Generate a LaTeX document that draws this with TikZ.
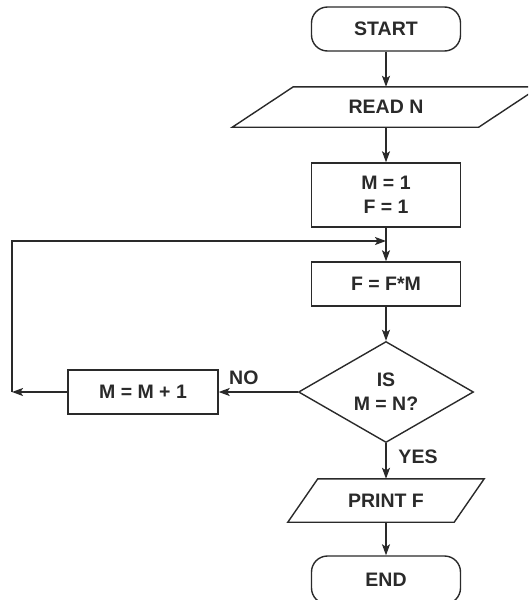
\documentclass[tikz,border=0pt]{standalone}
\usepackage{fontspec}
\setmainfont{Liberation Sans}
\usetikzlibrary{shapes.geometric,arrows.meta}
\definecolor{ink}{HTML}{2A2A2A}
\begin{document}
\begin{tikzpicture}[x=1pt,y=-1pt,
  every node/.style={font=\fontsize{19.5}{24}\selectfont\bfseries, text=ink},
  line/.style={draw=ink, line width=1.4pt},
  arr/.style={line, -{Stealth[length=11pt,width=8pt,inset=2.5pt]}},
  terminal/.style={line, rounded corners=16pt, minimum width=149pt, minimum height=44pt, inner sep=0pt},
  procbox/.style={line, minimum width=149pt, inner sep=0pt, align=center},
  iobox/.style={inner sep=0pt},
  decision/.style={line, diamond, aspect=1.73, minimum width=175pt, minimum height=101pt, inner sep=0pt, align=center},
  lbl/.style={inner sep=0pt}
]
\useasboundingbox (0,0) rectangle (528,600);
\clip (0,0) rectangle (528,600);

% flowchart blocks
\node[terminal] (start) at (386,29) {START};

\node[iobox, minimum width=246pt, minimum height=40pt] (read) at (386,107) {READ N};
\draw[line] ([xshift=30.5pt]read.north west) -- ([xshift=30.5pt]read.north east)
  -- ([xshift=-30.5pt]read.south east) -- ([xshift=-30.5pt]read.south west) -- cycle;

\node[procbox, minimum height=64pt] (init) at (386,195) {M = 1\\F = 1};
\node[procbox, minimum height=44pt] (fm) at (386,284) {F = F*M};
\node[decision] (test) at (386,392) {IS\\M = N?};
\node[procbox, minimum width=150pt, minimum height=44pt] (inc) at (143,392) {M = M + 1};

\node[iobox, minimum width=166pt, minimum height=43pt] (print) at (386,500.5) {PRINT F};
\draw[line] ([xshift=15pt]print.north west) -- ([xshift=15pt]print.north east)
  -- ([xshift=-15pt]print.south east) -- ([xshift=-15pt]print.south west) -- cycle;

\node[terminal, minimum height=48pt] (stop) at (386,580) {END};

% loop-back points
\coordinate (join) at (386,241);
\coordinate (cornerlow) at (12,392);
\coordinate (cornerhigh) at (12,241);

% connectors
\draw[arr] (start) -- (read);
\draw[arr] (read) -- (init);
\draw[arr] (init) -- (fm);
\draw[arr] (fm) -- (test);
\draw[arr] (test.west) -- (inc.east);
\draw[arr] (inc.west) -- (cornerlow);
\draw[arr] (cornerlow) -- (cornerhigh) -- (join);
\draw[arr] (test.south) -- (print.north);
\draw[arr] (print) -- (stop);

% branch labels
\node[lbl, anchor=south west] (no) at (229,385) {NO};
\node[lbl] (yes) at (418,456.5) {YES};
\end{tikzpicture}
\end{document}
